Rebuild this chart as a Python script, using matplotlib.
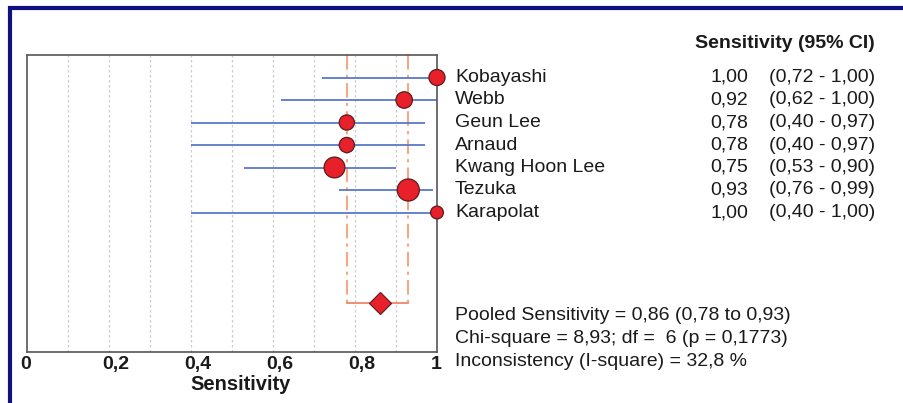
import matplotlib.pyplot as plt
from matplotlib.patches import Rectangle
from matplotlib.transforms import ScaledTranslation

plt.rcParams["font.family"] = ["Liberation Sans", "DejaVu Sans"]

# ----------------- DADOS -----------------
studies = ["Kobayashi", "Webb", "Geun Lee", "Arnaud", "Kwang Hoon Lee", "Tezuka", "Karapolat"]
sens = [1.00, 0.92, 0.78, 0.78, 0.75, 0.93, 1.00]
ci_low = [0.72, 0.62, 0.40, 0.40, 0.53, 0.76, 0.40]
ci_high = [1.00, 1.00, 0.97, 0.97, 0.90, 0.99, 1.00]
n_diseased = [11, 12, 9, 9, 24, 28, 4]

pooled = 0.86
pooled_low = 0.78
pooled_high = 0.93
stats_lines = [
    "Pooled Sensitivity = 0,86 (0,78 to 0,93)",
    "Chi-square = 8,93; df =  6 (p = 0,1773)",
    "Inconsistency (I-square) = 32,8 %",
]
xticks = [0, 0.2, 0.4, 0.6, 0.8, 1.0]
xtick_labels = ["0", "0,2", "0,4", "0,6", "0,8", "1"]

FS = 14
TXT = "#1a1a1a"


def fmt(v):
    return f"{v:.2f}".replace(".", ",")


fig = plt.figure(figsize=(9.04, 4.03), dpi=100)
ax = fig.add_axes([27 / 904, 1 - 352 / 403, 410 / 904, 297 / 403])

rows = list(range(len(studies)))
pooled_row = 10

# grade pontilhada
for g in [0.1, 0.2, 0.3, 0.4, 0.5, 0.6, 0.7, 0.8, 0.9]:
    ax.axvline(g, color="#cccccc", lw=0.9, ls=(0, (2, 2)), zorder=0)

# intervalo combinado
for v in [pooled_low, pooled_high]:
    ax.plot([v, v], [-1, pooled_row], color="#f4a886", lw=1.5, ls=(0, (7, 2.5, 1.5, 2.5)), zorder=1)
ax.plot([pooled_low, pooled_high], [pooled_row, pooled_row], color="#f07a5a", lw=1.2, zorder=2)
ax.plot([pooled], [pooled_row], marker="D", ms=11, color="#e8202a", mec="#6a2020", mew=0.9, zorder=4)

# estudos
ax.hlines(rows, ci_low, ci_high, color="#5b78cc", lw=1.3, zorder=2)
sizes = [(110 + 13.5 * n) * 0.518 for n in n_diseased]
ax.scatter(sens, rows, s=sizes, color="#e8202a", edgecolors="#5a1c1c", linewidths=0.9,
           zorder=5, clip_on=False)

ax.set_xlim(0, 1)
ax.set_ylim(12.2, -1)
ax.set_yticks([])
ax.set_xticks(xticks)
ax.set_xticklabels(xtick_labels, fontsize=FS, fontweight="bold", color=TXT)
ax.tick_params(axis="x", length=0, pad=3)
for lab in ax.get_xticklabels():
    lab.set_horizontalalignment("left")
    lab.set_transform(lab.get_transform() + ScaledTranslation(-0.065, 0, fig.dpi_scale_trans))
ax.set_xlabel("Sensitivity", fontsize=14.5, fontweight="bold", color=TXT)
ax.xaxis.set_label_coords(0.52, -0.078)
for sp in ax.spines.values():
    sp.set_color("#555555")
    sp.set_linewidth(1.2)

# ----------------- TEXTOS -----------------
tr = ax.get_yaxis_transform()
ax.text(2.068, -1.5, "Sensitivity (95% CI)", transform=tr, ha="right", va="center",
        fontsize=FS, fontweight="bold", color=TXT, clip_on=False)
for i, name in enumerate(studies):
    ax.text(1.044, i, name, transform=tr, ha="left", va="center", fontsize=FS, color=TXT)
    ax.text(1.7585, i, fmt(sens[i]), transform=tr, ha="right", va="center", fontsize=FS,
            color=TXT)
    ax.text(2.068, i, f"({fmt(ci_low[i])} - {fmt(ci_high[i])})", transform=tr, ha="right",
            va="center", fontsize=FS, color=TXT)
for k, line in enumerate(stats_lines):
    ax.text(1.044, 10.6 + k, line, transform=tr, ha="left", va="center", fontsize=FS,
            color=TXT, clip_on=False)

# moldura azul
fig.patches.append(Rectangle((9.5 / 904, -0.2), 1.2, 1.2 - 8 / 403, transform=fig.transFigure,
                             fill=False, edgecolor="#101080", linewidth=3))

fig.savefig("out.png", dpi=100)
